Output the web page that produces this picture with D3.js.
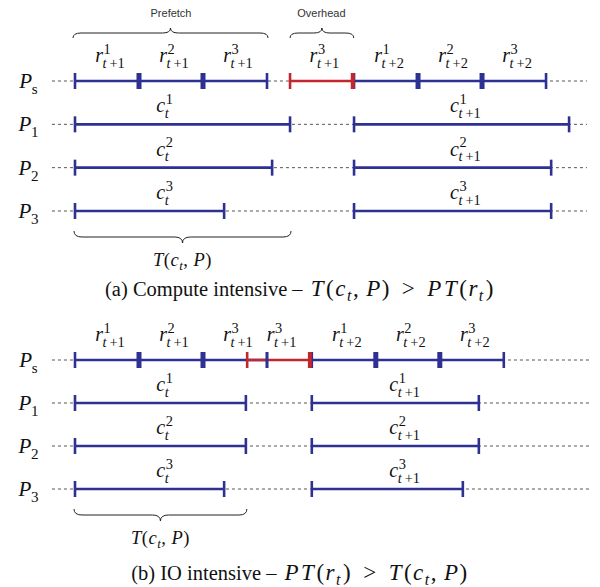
<!DOCTYPE html>
<html>
<head>
<meta charset="utf-8">
<script src="https://cdn.jsdelivr.net/npm/d3@7"></script>
<style>
  body { margin: 0; background: #fff; }
  svg { display: block; }
</style>
</head>
<body>
<svg id="chart" width="600" height="587"></svg>
<script>
// processors (row subscripts)
const procs = ['s', '1', '2', '3']
const timeline = [-3.6, 80]

// (a) compute intensive: storage reads [start, end, sup, sub]
const readsA = [[0, 10, '1', '+1'], [10, 20, '2', '+1'], [20, 30, '3', '+1'],
  [43.6, 53.6, '1', '+2'], [53.6, 63.6, '2', '+2'], [63.6, 73.6, '3', '+2']]
const overheadA = [33.6, 43.4, '3', '+1']
// compute per processor: [[start, end], [start, end]]
const computeA = [[[0, 33.6], [43.6, 77.2]], [[0, 30.8], [43.6, 74.4]], [[0, 23.3], [43.6, 74.4]]]
const computeLabelAtA = [14, 61]
const prefetchA = [0, 30]
const spanA = [0, 33.6]

// (b) IO intensive
const readsB = [[0, 10, '1', '+1'], [10, 20, '2', '+1'], [20, 30, '3', '+1'],
  [37, 47, '1', '+2'], [47, 57, '2', '+2'], [57, 67, '3', '+2']]
const overheadB = [26.9, 36.7, '3', '+1']
const computeB = [[[0, 26.7], [37, 63.1]], [[0, 26.7], [37, 63.1]], [[0, 23.3], [37, 60.6]]]
const computeLabelAtB = [14, 51.5]
const spanB = [0, 26.7]

const blue = '#2e3192'
const red = '#c1272d'
const serif = "'Liberation Serif', 'DejaVu Serif', serif"

const svg = d3.select('#chart')
const x = d3.scaleLinear().domain([0, 80]).range([75, 587])

// italic base letter with stacked super/subscript, centred on cx
const mathLabel = (parent, cx, baseline, base, sup, sub, size) => {
  const g = parent.append('g')
  const b = g.append('text')
    .attr('font-family', serif).attr('font-style', 'italic')
    .attr('font-size', size).attr('fill', '#111')
    .text(base)
  const w = b.node().getComputedTextLength()
  const small = size * 0.72
  if (sup) {
    g.append('text').attr('x', w + 0.5).attr('y', -size * 0.42)
      .attr('font-family', serif).attr('font-size', small).attr('fill', '#111')
      .text(sup)
  }
  if (sub) {
    const s = g.append('text').attr('x', w - 0.5).attr('y', size * 0.28)
      .attr('font-family', serif).attr('font-size', small).attr('fill', '#111')
    sub.forEach(([txt, it, dx]) => {
      s.append('tspan').attr('font-style', it ? 'italic' : 'normal').attr('dx', dx || 0).text(txt)
    })
  }
  const bb = g.node().getBBox()
  g.attr('transform', `translate(${cx - bb.x - bb.width / 2},${baseline})`)
  return g
}

const brace = (parent, x1, x2, y0, h, dir) => {
  const y1 = y0 + dir * h * 0.5
  const y2 = y0 + dir * h
  const xm = (x1 + x2) / 2
  const r = 8
  parent.append('path')
    .attr('d', `M${x1},${y0} Q${x1},${y1} ${x1 + r},${y1} L${xm - r},${y1} Q${xm},${y1} ${xm},${y2} ` +
      `Q${xm},${y1} ${xm + r},${y1} L${x2 - r},${y1} Q${x2},${y1} ${x2},${y0}`)
    .attr('fill', 'none').attr('stroke', '#222').attr('stroke-width', 1)
}

const tick = (parent, xv, yv, w, color) => {
  parent.append('line')
    .attr('x1', x(xv)).attr('x2', x(xv))
    .attr('y1', yv - 8).attr('y2', yv + 8)
    .attr('stroke', color).attr('stroke-width', w)
}

// caption / formula text made of pieces: [text, kind, dx]
const formula = (parent, cx, y, pieces, textSize, mathSize, subSize, shift, spacing) => {
  const t = parent.append('text')
    .attr('x', cx).attr('y', y)
    .attr('text-anchor', 'middle').attr('font-family', serif).attr('fill', '#111')
  pieces.forEach(([txt, kind, dx]) => {
    const ts = t.append('tspan').text(txt).attr('dx', dx || 0)
    if (kind === 't') ts.attr('font-size', textSize)
    else ts.attr('letter-spacing', spacing || 0)
    if (kind === 'm') ts.attr('font-size', mathSize).attr('font-style', 'italic')
    if (kind === 'mu') ts.attr('font-size', mathSize)
    if (kind === 'sub') ts.attr('font-size', subSize).attr('font-style', 'italic').attr('dy', shift)
    if (kind === 'back') ts.attr('font-size', mathSize).attr('dy', -shift)
  })
  return t
}

const drawPanel = (cfg) => {
  const g = svg.append('g')
  const y = d3.scalePoint().domain(procs).range(cfg.rowRange)
  const lines = g.append('g')
  const ticks = g.append('g')

  // row labels and dashed timelines
  procs.forEach((p) => {
    mathLabel(g, 28, y(p) + 7, 'P', null, [[p, false]], 21)
    lines.append('line')
      .attr('x1', x(timeline[0])).attr('x2', x(cfg.end))
      .attr('y1', y(p)).attr('y2', y(p))
      .attr('stroke', '#555').attr('stroke-width', 1).attr('stroke-dasharray', '3,3')
  })

  // storage reads
  const ys = y('s')
  cfg.reads.forEach((d, i) => {
    lines.append('line')
      .attr('x1', x(d[0])).attr('x2', x(d[1])).attr('y1', ys).attr('y2', ys)
      .attr('stroke', blue).attr('stroke-width', 2.6)
    const prev = cfg.reads[i - 1]
    const next = cfg.reads[i + 1]
    if (!prev || prev[1] !== d[0]) tick(ticks, d[0], ys, 2.6, blue)
    if (next && next[0] === d[1]) tick(ticks, d[1], ys, 5, blue)
    else tick(ticks, d[1], ys, 2.6, blue)
    mathLabel(g, (x(d[0]) + x(d[1])) / 2 + 3, ys - 19, 'r', d[2], [['t', true], [d[3], false, 3]], 20)
  })
  const o = cfg.overhead
  lines.append('line')
    .attr('x1', x(o[0])).attr('x2', x(o[1])).attr('y1', ys).attr('y2', ys)
    .attr('stroke', red).attr('stroke-width', 2.6)
  tick(ticks, o[0], ys, 2.6, red)
  tick(ticks, o[1], ys, 4, red)
  // blue ticks of reads sitting on the red segment go on top
  cfg.reads.forEach((d) => {
    if (d[1] > o[0] && d[1] < o[1]) tick(ticks, d[1], ys, 2.6, blue)
  })
  mathLabel(g, (x(o[0]) + x(o[1])) / 2 + 3, ys - 19, 'r', o[2], [['t', true], [o[3], false, 3]], 20)

  // compute per processor
  cfg.compute.forEach((segs, i) => {
    const yp = y(procs[i + 1])
    segs.forEach(([s, e], k) => {
      lines.append('line')
        .attr('x1', x(s)).attr('x2', x(e)).attr('y1', yp).attr('y2', yp)
        .attr('stroke', blue).attr('stroke-width', 2.6)
      tick(ticks, s, yp, 2.6, blue)
      tick(ticks, e, yp, 2.6, blue)
      const sub = k === 0 ? [['t', true]] : [['t', true], ['+1', false, 3]]
      mathLabel(g, x(cfg.labelAt[k]), yp - 12, 'c', String(i + 1), sub, 20)
    })
  })

  // T(c_t, P) brace
  const yb = y('3') + 20
  brace(g, x(cfg.span[0]) - 1, x(cfg.span[1]) + 1, yb, 12, 1)
  formula(g, (x(cfg.span[0]) + x(cfg.span[1])) / 2, yb + 35,
    [['T', 'm'], ['(', 'mu'], ['c', 'm'], ['t', 'sub'], [',', 'back'], ['P', 'm', 5], [')', 'mu']],
    18, 18.5, 13, 4, 0.5)

  // caption
  formula(g, 300, cfg.captionY, cfg.caption, 20.5, 23, 16, 5, 1.5)
  return g
}

const gA = drawPanel({
  rowRange: [81, 211], end: timeline[1], reads: readsA, overhead: overheadA,
  compute: computeA, labelAt: computeLabelAtA, span: spanA, captionY: 296,
  caption: [['(a) Compute intensive', 't'], [' – ', 't'], ['T', 'm', 3], ['(', 'mu', 1], ['c', 'm'], ['t', 'sub'],
    [',', 'back'], ['P', 'm', 6], [')', 'mu'], ['>', 'mu', 11], ['P', 'm', 11], ['T', 'm', 1], ['(', 'mu', 1],
    ['r', 'm'], ['t', 'sub'], [')', 'back', 1]]
})

// Prefetch / Overhead braces on top of (a)
brace(gA, x(prefetchA[0]) - 2, x(prefetchA[1]) + 1, 38, 10, -1)
brace(gA, x(overheadA[0]), x(overheadA[1]) + 1, 38, 10, -1)
gA.append('text').attr('x', (x(prefetchA[0]) + x(prefetchA[1])) / 2).attr('y', 17)
  .attr('text-anchor', 'middle').attr('font-family', "'Liberation Sans', Arial, sans-serif")
  .attr('font-size', 11).attr('fill', '#333').text('Prefetch')
gA.append('text').attr('x', (x(overheadA[0]) + x(overheadA[1])) / 2).attr('y', 17)
  .attr('text-anchor', 'middle').attr('font-family', "'Liberation Sans', Arial, sans-serif")
  .attr('font-size', 11).attr('fill', '#333').text('Overhead')

drawPanel({
  rowRange: [360, 489], end: 80.5, reads: readsB, overhead: overheadB,
  compute: computeB, labelAt: computeLabelAtB, span: spanB, captionY: 580,
  caption: [['(b) IO intensive', 't'], [' – ', 't'], ['P', 'm', 3], ['T', 'm', 1], ['(', 'mu', 1], ['r', 'm'],
    ['t', 'sub'], [')', 'back', 1], ['>', 'mu', 11], ['T', 'm', 11], ['(', 'mu', 1], ['c', 'm'], ['t', 'sub'],
    [',', 'back'], ['P', 'm', 6], [')', 'mu']]
})
</script>
</body>
</html>
